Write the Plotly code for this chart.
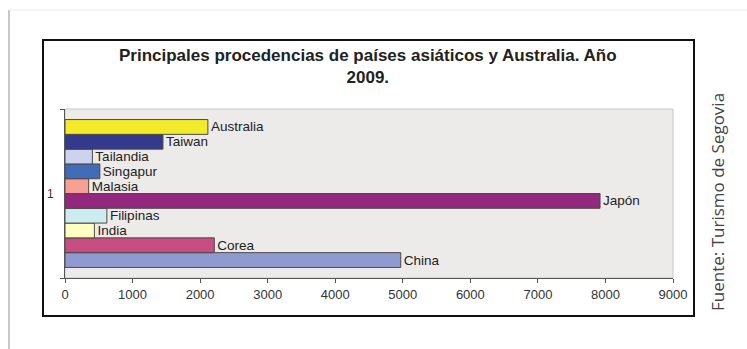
import plotly.graph_objects as go

# Data (bottom to top order as drawn)
countries = ["China", "Corea", "India", "Filipinas", "Japón", "Malasia", "Singapur", "Tailandia", "Taiwan", "Australia"]
values = [4970, 2210, 435, 620, 7920, 350, 516, 405, 1450, 2115]
colors = ["#8F9AD0", "#C84D80", "#FFFFC2", "#CCECF0", "#93297F", "#F8A093", "#416DB8", "#CDD3EC", "#333A8E", "#F2EA2A"]
category = ["1"]
x_ticks = [0, 1000, 2000, 3000, 4000, 5000, 6000, 7000, 8000, 9000]

W, H = 747, 349
ML, MR, MT, MB = 65, 74, 109, 71
PW, PH = W - ML - MR, H - MT - MB

def px(x):
    return (x - ML) / PW

def py(y):
    return (H - MB - y) / PH

fig = go.Figure()
for c, v, col in zip(countries, values, colors):
    fig.add_trace(go.Bar(
        y=category, x=[v], orientation="h", name=c,
        marker=dict(color=col, line=dict(color="#4a4a4a", width=1)),
        text=[c], textposition="outside", cliponaxis=False,
        constraintext="none",
        textfont=dict(family="Liberation Sans, Arial", size=13.5, color="#222"),
        hoverinfo="x+name",
    ))

shapes = [
    # page edges
    dict(type="line", xref="paper", yref="paper", x0=px(9), x1=px(9), y0=py(10), y1=py(349),
         line=dict(color="#c8c8c8", width=2), layer="below"),
    dict(type="line", xref="paper", yref="paper", x0=px(9), x1=px(747), y0=py(10), y1=py(10),
         line=dict(color="#ececec", width=1), layer="below"),
    # chart box
    dict(type="rect", xref="paper", yref="paper", x0=px(43), x1=px(694), y0=py(316), y1=py(40),
         line=dict(color="#111", width=2), fillcolor="rgba(0,0,0,0)", layer="below"),
    # plot area light border
    dict(type="rect", xref="paper", yref="paper", x0=0, x1=1, y0=0, y1=1,
         line=dict(color="#c9c6c6", width=1), fillcolor="rgba(0,0,0,0)", layer="below"),
]

annotations = [
    dict(text="<b>Principales procedencias de países asiáticos y Australia. Año<br>2009.</b>",
         xref="paper", yref="paper", x=px(368), y=py(44), xanchor="center", yanchor="top",
         showarrow=False, align="center",
         font=dict(family="Liberation Sans, Arial", size=17, color="#222")),
    dict(text="Fuente: Turismo de Segovia", textangle=-90,
         xref="paper", yref="paper", x=px(717), y=py(202), xanchor="center", yanchor="middle",
         showarrow=False, font=dict(family="Open Sans, Noto Sans", size=17, color="#444")),
]

fig.update_layout(
    width=W, height=H,
    margin=dict(l=ML, r=MR, t=MT, b=MB),
    paper_bgcolor="white", plot_bgcolor="#EDEAEA",
    barmode="group", bargap=0.125, bargroupgap=0,
    showlegend=False,
    shapes=shapes, annotations=annotations,
    xaxis=dict(range=[0, 9000], tickvals=x_ticks, ticktext=[str(t) for t in x_ticks],
               showgrid=False, zeroline=False, showline=True, linecolor="#555", linewidth=1,
               ticks="outside", ticklen=4, tickcolor="#555",
               tickfont=dict(family="Liberation Sans, Arial", size=13, color="#333")),
    yaxis=dict(type="category", showgrid=False, zeroline=False, showline=True,
               linecolor="#555", linewidth=1, ticks="outside", ticklen=4, tickcolor="#555",
               tickson="boundaries", ticklabelstandoff=8,
               tickfont=dict(family="Liberation Sans, Arial", size=12, color="#333")),
)

fig.write_html("out.html")
